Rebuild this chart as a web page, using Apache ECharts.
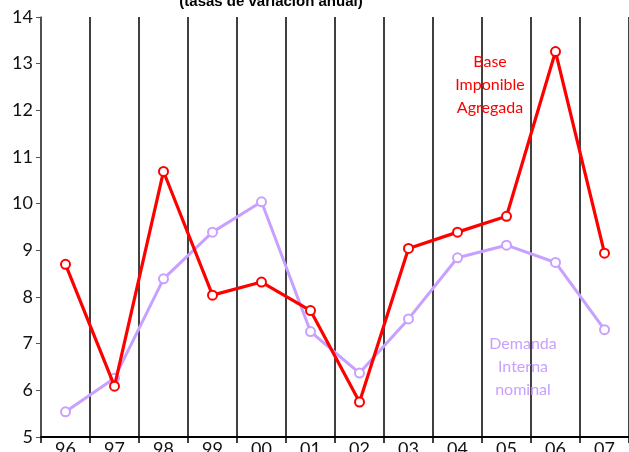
<!DOCTYPE html>
<html><head><meta charset="utf-8">
<script src="https://cdn.jsdelivr.net/npm/echarts@6/dist/echarts.min.js"></script>
<style>html,body{margin:0;padding:0;background:#fff}#c{width:629px;height:452px}</style>
</head><body><div id="c"></div>
<script>
const categories = ['96','97','98','99','00','01','02','03','04','05','06','07'];
const baseImponible = [8.70, 6.09, 10.69, 8.04, 8.32, 7.71, 5.75, 9.04, 9.39, 9.73, 13.26, 8.94];
const demandaInterna = [5.54, 6.26, 8.39, 9.39, 10.04, 7.26, 6.37, 7.53, 8.84, 9.11, 8.74, 7.30];
const yTicks = [5, 6, 7, 8, 9, 10, 11, 12, 13, 14];

const chart = echarts.init(document.getElementById('c'));
const red = '#ff0000', purple = '#c8a0ff';
const txtFont = 'Lato, "Open Sans", sans-serif';
chart.setOption({
  animation: false,
  title: { text: '(tasas de variación anual)', left: 266, textAlign: 'center', top: -11,
    textStyle: { fontFamily: '"Liberation Sans", Arial, sans-serif', fontWeight: 'bold', fontSize: 15, color: '#000' } },
  grid: { left: 41, right: 0, top: 17, bottom: 15, containLabel: false, outerBoundsMode: 'none' },
  xAxis: {
    type: 'category', data: categories, boundaryGap: true,
    axisLine: { lineStyle: { color: '#000', width: 2 } },
    axisTick: { show: true, length: 6, lineStyle: { color: '#000', width: 1.5 } },
    splitLine: { show: true, lineStyle: { color: '#000', width: 1.5 } },
    axisLabel: { color: '#111', fontSize: 18, fontFamily: txtFont, margin: 3 }
  },
  yAxis: {
    type: 'value', min: yTicks[0], max: yTicks[yTicks.length-1], interval: 1,
    axisLine: { show: true, lineStyle: { color: '#555', width: 1.5 } },
    axisTick: { show: true, length: 5, lineStyle: { color: '#555' } },
    splitLine: { show: false },
    axisLabel: { color: '#111', fontSize: 18, fontFamily: txtFont, margin: 8 }
  },
  series: [
    { type: 'line', data: baseImponible, symbol: 'circle', symbolSize: 9,
      lineStyle: { color: red, width: 3.2 }, itemStyle: { color: '#fff', borderColor: red, borderWidth: 2 }, z: 3 },
    { type: 'line', data: demandaInterna, symbol: 'circle', symbolSize: 9,
      lineStyle: { color: purple, width: 3 }, itemStyle: { color: '#fff', borderColor: purple, borderWidth: 2 }, z: 2 }
  ],
  graphic: [
    { type: 'text', x: 490, y: 50, style: { text: 'Base\nImponible\nAgregada', fill: red, font: '16px ' + txtFont, align: 'center', lineHeight: 23 }, z: 10 },
    { type: 'text', x: 523, y: 332, style: { text: 'Demanda\nInterna\nnominal', fill: purple, font: '16px ' + txtFont, align: 'center', lineHeight: 23 }, z: 10 }
  ]
});
</script></body></html>
